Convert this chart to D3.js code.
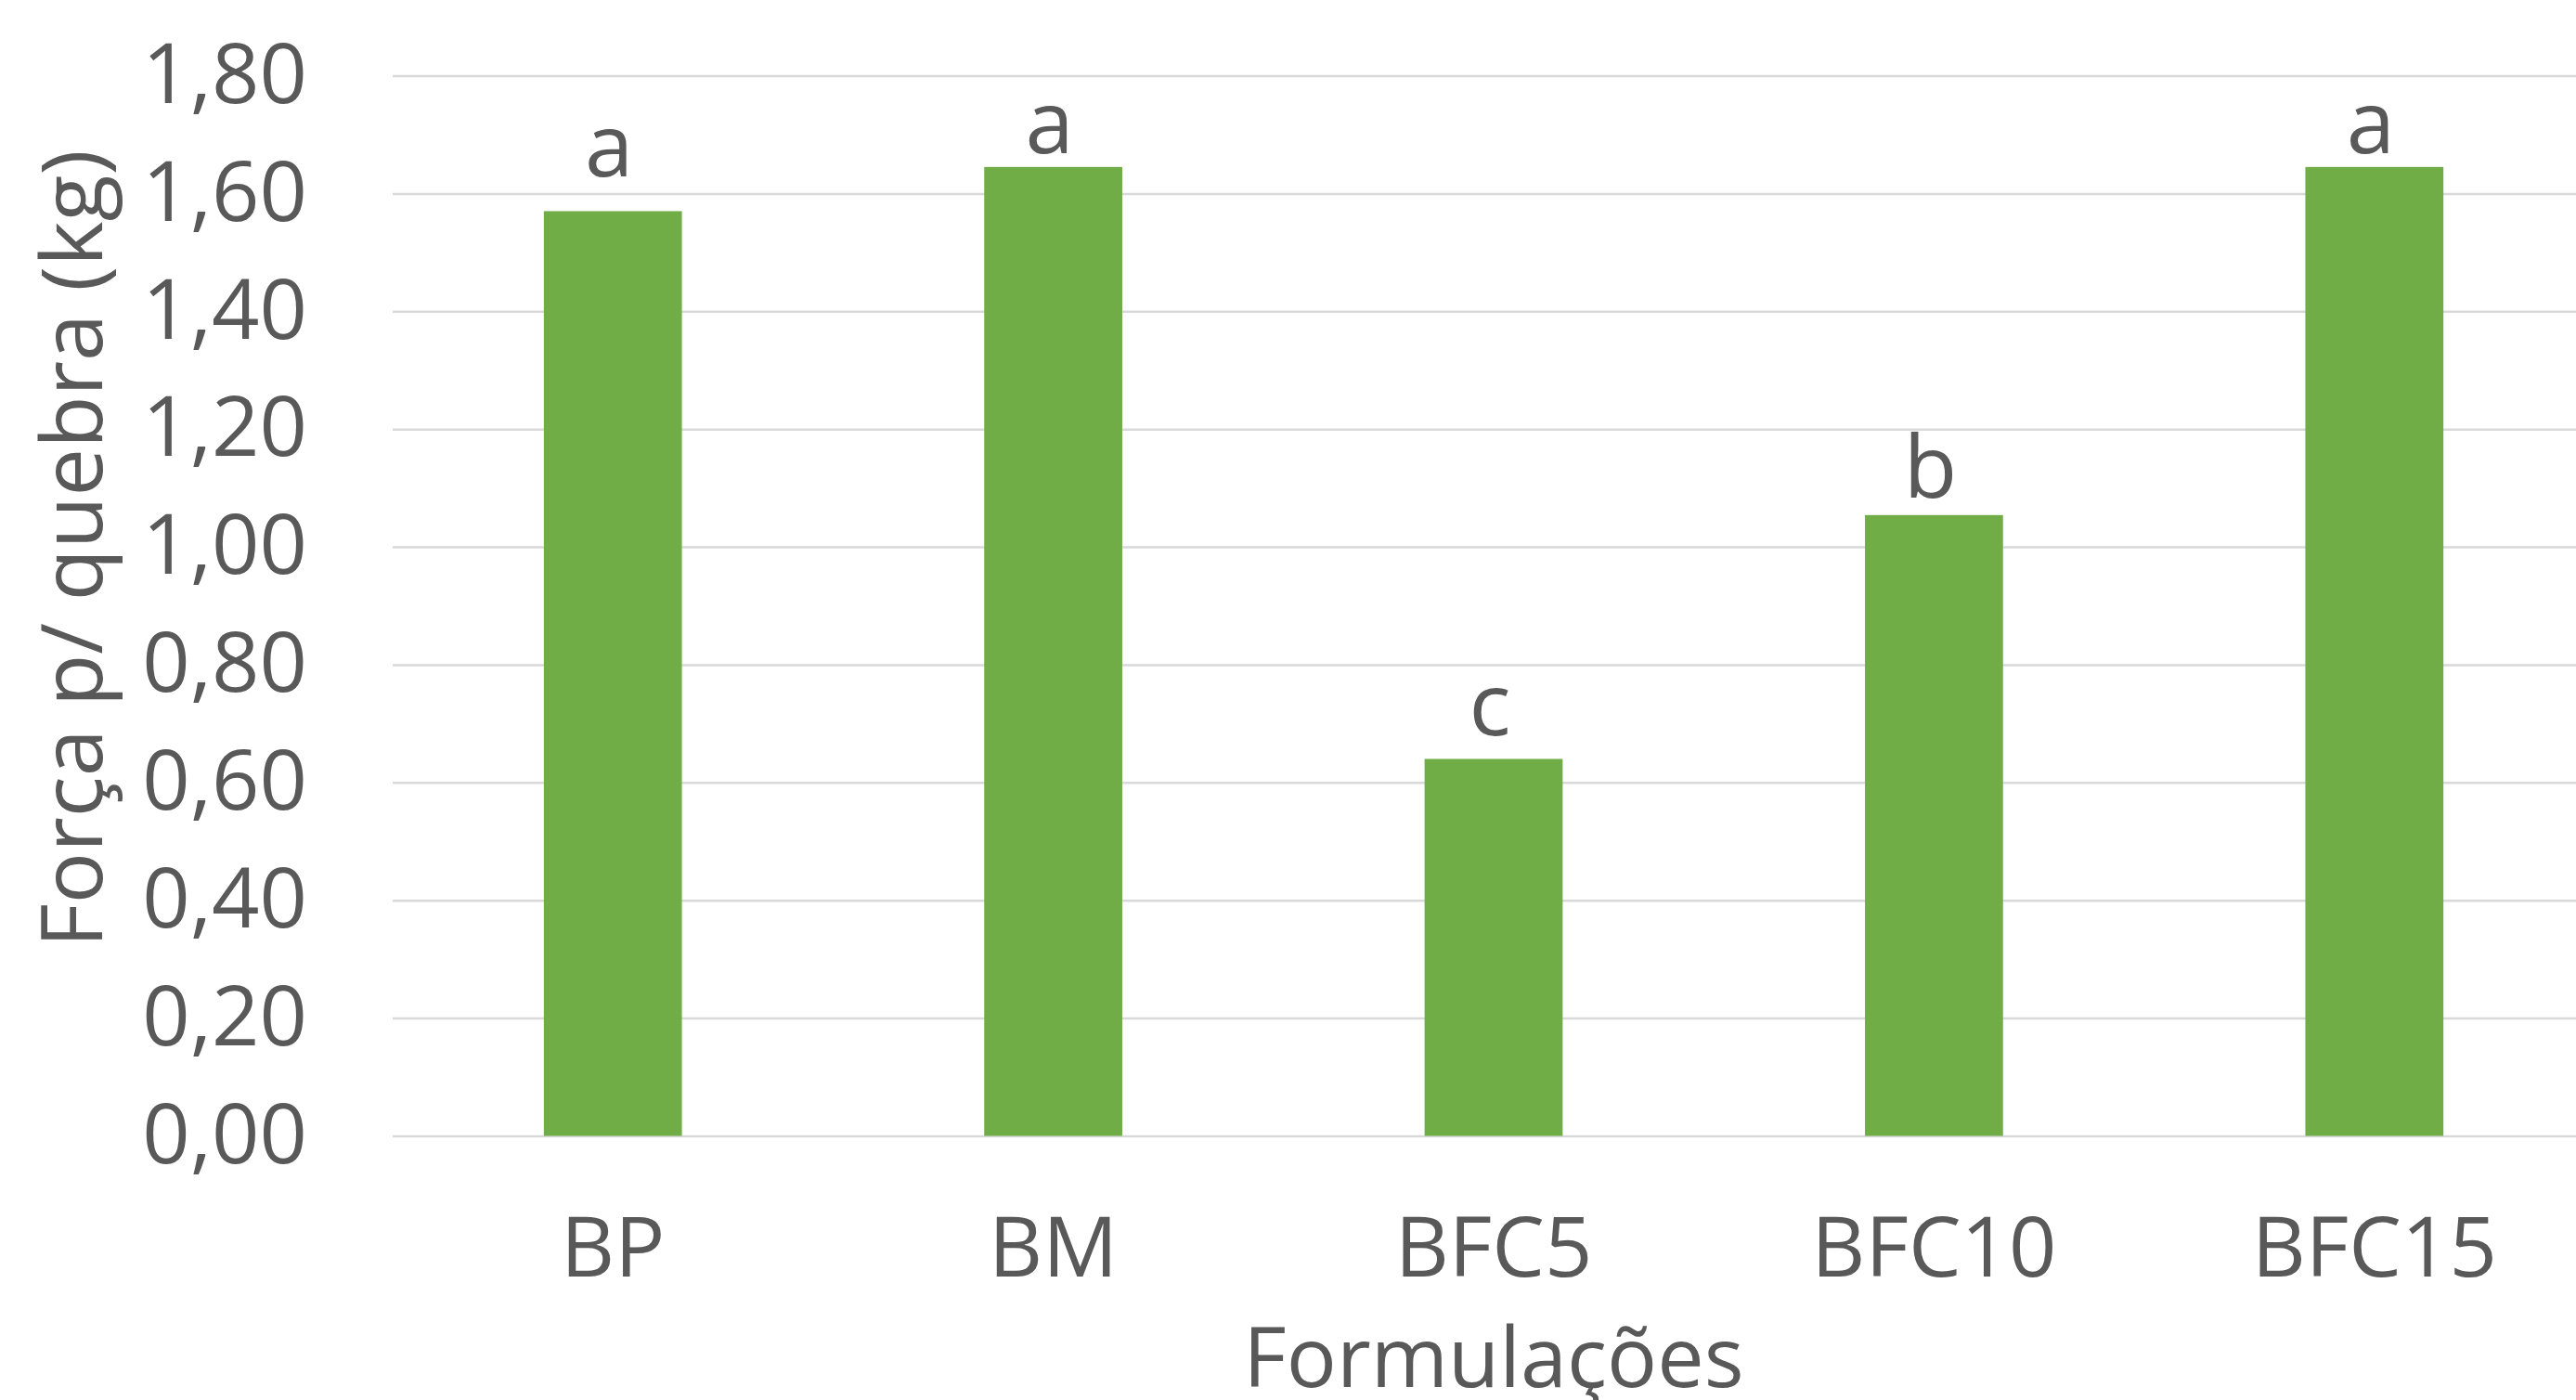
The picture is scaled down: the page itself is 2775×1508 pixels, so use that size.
<!DOCTYPE html>
<html>
<head>
<meta charset="utf-8">
<script src="https://cdn.jsdelivr.net/npm/d3@7"></script>
<style>
  html, body { margin: 0; padding: 0; background: #ffffff; }
  svg { display: block; }
  text { font-family: "Open Sans", "Noto Sans", sans-serif; fill: #595959; }
</style>
</head>
<body>
<script>
// ---- data ----
const categories = ["BP", "BM", "BFC5", "BFC10", "BFC15"];
const values = [1.57, 1.645, 0.64, 1.054, 1.645];
const letters = ["a", "a", "c", "b", "a"];
const yTicks = [0, 0.2, 0.4, 0.6, 0.8, 1.0, 1.2, 1.4, 1.6, 1.8];
const yTitle = "Força p/ quebra (kg)";
const xTitle = "Formulações";

// ---- layout ----
const W = 2775, H = 1508;
const plot = { left: 423, right: 2795, top: 81.5, bottom: 1223.5 };
const letterGap = [37, 15, 25, 19, 15];

const svg = d3.select("body").append("svg").attr("width", W).attr("height", H);

const x = d3.scaleBand().domain(categories).range([plot.left, plot.right])
  .paddingInner(0.6865).paddingOuter(0.34325);
const y = d3.scaleLinear().domain([0, 1.8]).range([plot.bottom, plot.top]);

const fmt = d3.formatLocale({ decimal: ",", thousands: ".", grouping: [3], currency: ["R$", ""] }).format(".2f");

// gridlines + y tick labels
const yAxis = svg.append("g").attr("transform", `translate(${plot.left},0)`)
  .call(d3.axisLeft(y).tickValues(yTicks).tickFormat(fmt)
    .tickSizeInner(-(plot.right - plot.left)).tickSizeOuter(0).tickPadding(92));
yAxis.select(".domain").remove();
yAxis.selectAll(".tick line").attr("stroke", "#D9D9D9").attr("stroke-width", 2.5);
yAxis.selectAll(".tick text").style("font-size", "90px").attr("fill", "#595959")
  .style("font-family", "'Open Sans', sans-serif");

// bars
svg.append("g").selectAll("rect").data(values).join("rect")
  .attr("x", (d, i) => x(categories[i]))
  .attr("width", x.bandwidth())
  .attr("y", d => y(d))
  .attr("height", d => y(0) - y(d))
  .attr("fill", "#70AD47");

// letters
svg.append("g").selectAll("text").data(letters).join("text")
  .attr("x", (d, i) => x(categories[i]) + x.bandwidth() / 2 - 4)
  .attr("y", (d, i) => y(values[i]) - letterGap[i])
  .attr("text-anchor", "middle")
  .style("font-size", "94px")
  .text(d => d);

// x axis
const xAxis = svg.append("g").attr("transform", `translate(0,${plot.bottom})`)
  .call(d3.axisBottom(x).tickSize(0).tickPadding(88));
xAxis.select(".domain").remove();
xAxis.selectAll(".tick text").style("font-size", "90px").attr("fill", "#595959")
  .style("font-family", "'Open Sans', sans-serif");

// titles
svg.append("text")
  .attr("transform", `translate(110,591) rotate(-90)`)
  .attr("text-anchor", "middle")
  .style("font-size", "92px")
  .text(yTitle);

svg.append("text")
  .attr("x", 1609).attr("y", 1494)
  .attr("text-anchor", "middle")
  .style("font-size", "90px")
  .text(xTitle);
</script>
</body>
</html>
